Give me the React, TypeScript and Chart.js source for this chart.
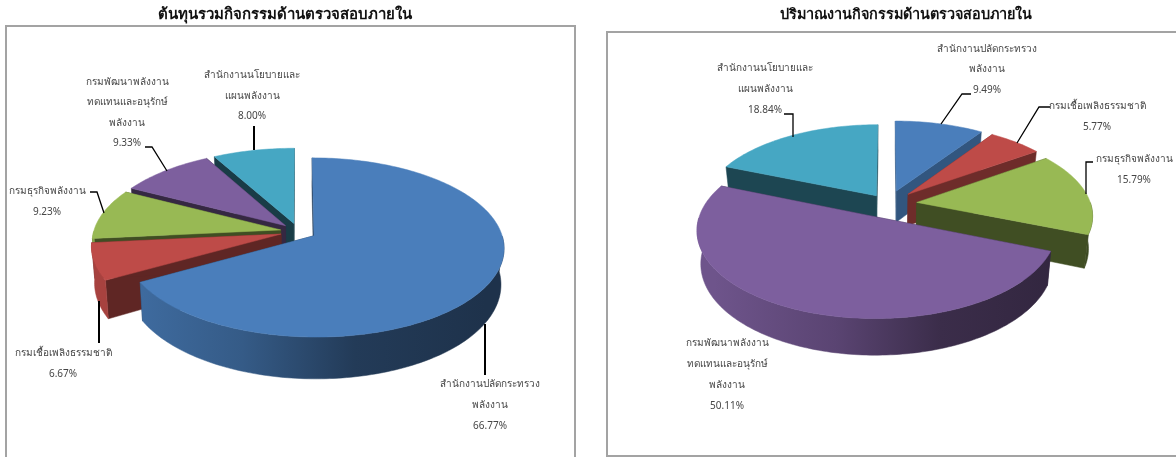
import React, { useEffect, useRef } from "react";
import { Chart, registerables } from "chart.js";

Chart.register(...registerables);

const FONT = '"Noto Sans", "DejaVu Sans", sans-serif';

// ---- data ----
const costTitle = "ต้นทุนรวมกิจกรรมด้านตรวจสอบภายใน";
const workTitle = "ปริมาณงานกิจกรรมด้านตรวจสอบภายใน";
const categories = [
  "สำนักงานปลัดกระทรวงพลังงาน",
  "กรมเชื้อเพลิงธรรมชาติ",
  "กรมธุรกิจพลังงาน",
  "กรมพัฒนาพลังงานทดแทนและอนุรักษ์พลังงาน",
  "สำนักงานนโยบายและแผนพลังงาน",
];
const costValues = [66.77, 6.67, 9.23, 9.33, 8.0];
const workValues = [9.49, 5.77, 15.79, 50.11, 18.84];
const categoryLines = [
  ["สำนักงานปลัดกระทรวง", "พลังงาน"],
  ["กรมเชื้อเพลิงธรรมชาติ"],
  ["กรมธุรกิจพลังงาน"],
  ["กรมพัฒนาพลังงาน", "ทดแทนและอนุรักษ์", "พลังงาน"],
  ["สำนักงานนโยบายและ", "แผนพลังงาน"],
];

// ---- styles ----
const topColors = ["#4a7ebb", "#be4b48", "#98b954", "#7d5f9e", "#46a7c3"];

function shade(hex: string, f: number) {
  const n = parseInt(hex.slice(1), 16);
  const c = [(n >> 16) & 255, (n >> 8) & 255, n & 255].map((v) => Math.round(v * f));
  return `rgb(${c[0]},${c[1]},${c[2]})`;
}

const pie3d = {
  id: "pie3d",
  beforeDatasetDraw(chart: any, args: any, o: any) {
    const ctx = chart.ctx as CanvasRenderingContext2D;
    const arcs = chart.getDatasetMeta(args.index).data as any[];
    const cx = o.center[0] - o.originX;
    const cy = o.center[1];
    const order = arcs
      .map((el, i) => ({ el, i, mid: (el.startAngle + el.endAngle) / 2 }))
      .sort((a, b) => Math.sin(a.mid) - Math.sin(b.mid));

    for (const { el, i, mid } of order) {
      const R = el.outerRadius;
      const off = (el.options.offset || 0) / R;
      const u0 = Math.cos(mid) * off;
      const v0 = Math.sin(mid) * off;
      const color = el.options.backgroundColor;
      // the exploded disc seen in perspective
      const proj = (u: number, v: number) => {
        const w = 1 - o.persp * v;
        return [(R * u) / w, (R * o.squash * v) / w];
      };
      const top = (u: number, v: number) => {
        const [x, y] = proj(u, v);
        return [cx + x, cy + y];
      };
      const bot = (u: number, v: number) => {
        const [x, y] = proj(u, v);
        return [cx + x * o.baseScale, cy + y * o.baseScale + o.depth + o.depthSlope * v];
      };
      const topPt = (a: number) => top(u0 + Math.cos(a), v0 + Math.sin(a));
      const botPt = (a: number) => bot(u0 + Math.cos(a), v0 + Math.sin(a));
      const apexTop = top(u0, v0);
      const apexBot = bot(u0, v0);
      const n = Math.max(4, Math.ceil((el.endAngle - el.startAngle) / 0.02));
      const angles: number[] = [];
      for (let k = 0; k <= n; k++) angles.push(el.startAngle + ((el.endAngle - el.startAngle) * k) / n);

      const poly = (pts: number[][], fill: any) => {
        ctx.beginPath();
        pts.forEach((p, k) => (k ? ctx.lineTo(p[0], p[1]) : ctx.moveTo(p[0], p[1])));
        ctx.closePath();
        ctx.fillStyle = fill;
        ctx.fill();
        ctx.strokeStyle = fill;
        ctx.lineWidth = 0.5;
        ctx.stroke();
      };

      const faceFill = shade(color, o.faceShade[i]);
      poly([apexTop, topPt(el.startAngle), botPt(el.startAngle), apexBot], faceFill);
      poly([apexTop, topPt(el.endAngle), botPt(el.endAngle), apexBot], faceFill);

      const g = ctx.createLinearGradient(cx - R, 0, cx + R, 0);
      g.addColorStop(0, shade(color, 0.88));
      g.addColorStop(0.35, shade(color, 0.72));
      g.addColorStop(0.65, shade(color, 0.47));
      g.addColorStop(1, shade(color, 0.4));
      const front = angles.filter((a) => Math.sin(a) >= 0);
      if (front.length > 1) poly([...front.map(topPt), ...front.slice().reverse().map(botPt)], g);

      poly([apexTop, ...angles.map(topPt)], color);
    }

    // data labels and leader lines
    ctx.save();
    ctx.translate(-o.originX, 0);
    ctx.strokeStyle = "#000";
    ctx.lineJoin = "miter";
    for (const lab of o.labels) {
      if (lab.leader) {
        ctx.beginPath();
        ctx.lineWidth = lab.leader.length === 2 ? 2 : 1.3;
        lab.leader.forEach((p: number[], k: number) => (k ? ctx.lineTo(p[0], p[1]) : ctx.moveTo(p[0], p[1])));
        ctx.stroke();
      }
    }
    ctx.fillStyle = "#454545";
    ctx.font = `10px ${FONT}`;
    ctx.textAlign = "center";
    ctx.textBaseline = "middle";
    const values = chart.data.datasets[args.index].data as number[];
    for (const lab of o.labels) {
      const lines = [...categoryLines[lab.index], values[lab.index].toFixed(2) + "%"];
      lines.forEach((t: string, k: number) => ctx.fillText(t, lab.x, lab.y + k * lab.gap));
    }
    ctx.restore();
    return false;
  },
};

const costLabels = [
  { index: 0, x: 490, y: 384, gap: 21, leader: [[485, 324], [485, 375]] },
  { index: 1, x: 63, y: 353, gap: 21, leader: [[99, 301], [99, 343]] },
  { index: 2, x: 47, y: 191, gap: 21, leader: [[90, 192], [97, 192], [104, 213]] },
  { index: 3, x: 127, y: 82, gap: 20.4, leader: [[145, 147], [152, 147], [167, 171]] },
  { index: 4, x: 252, y: 75, gap: 20.8, leader: [[254, 126], [254, 150]] },
];
const workLabels = [
  { index: 0, x: 987, y: 49, gap: 20.6, leader: [[971, 94], [962, 94], [941, 124]] },
  { index: 1, x: 1097, y: 106, gap: 21, leader: [[1050, 107], [1039, 107], [1017, 143]] },
  { index: 2, x: 1134, y: 159, gap: 21, leader: [[1093, 162], [1086, 162], [1086, 194]] },
  { index: 3, x: 727, y: 343, gap: 21, leader: null },
  { index: 4, x: 765, y: 68, gap: 21, leader: [[784, 114], [793, 114], [793, 137]] },
];

function makeChart(canvas: HTMLCanvasElement, title: string, titleSize: number, values: number[], radius: number, offset: number[], pie: any) {
  return new Chart(canvas, {
    type: "pie",
    data: {
      labels: categories,
      datasets: [{ data: values, backgroundColor: topColors, offset, borderWidth: 0 }],
    },
    plugins: [pie3d],
    options: {
      animation: false,
      responsive: false,
      radius,
      plugins: {
        legend: { display: false },
        tooltip: { enabled: false },
        title: {
          display: true,
          text: title,
          color: "#111",
          font: { family: FONT, size: titleSize, weight: "bold" },
          padding: { top: 6, bottom: 0 },
        },
        pie3d: pie,
      },
    } as any,
  } as any);
}

function Pane({ style, width, build }: any) {
  const ref = useRef<HTMLCanvasElement>(null);
  useEffect(() => {
    const c = build(ref.current);
    return () => c.destroy();
  }, []);
  return <canvas ref={ref} width={width} height={457} style={{ position: "absolute", top: 0, ...style }} />;
}

const frame = (left: number, top: number, width: number, height: number): React.CSSProperties => ({
  position: "absolute",
  left,
  top,
  width,
  height,
  border: "2px solid #a3a3a3",
  boxSizing: "border-box",
});

export default function App() {
  return (
    <div style={{ position: "fixed", inset: 0, overflow: "hidden", background: "#fff" }}>
      <div style={frame(5, 25, 571, 460)} />
      <div style={frame(606, 31, 600, 426)} />
      <Pane
        style={{ left: 0 }}
        width={570}
        build={(c: HTMLCanvasElement) =>
          makeChart(c, costTitle, 15, costValues, 187, [18, 18, 18, 18, 18], {
            center: [298.3, 231.5],
            originX: 0,
            persp: 0.13,
            squash: 0.465,
            depth: 35,
            depthSlope: 8,
            baseScale: 0.985,
            faceShade: [0.45, 0.5, 0.42, 0.42, 0.36],
            labels: costLabels,
          })
        }
      />
      <Pane
        style={{ left: 636 }}
        width={540}
        build={(c: HTMLCanvasElement) =>
          makeChart(c, workTitle, 14.4, workValues, 174, [29, 29, 29, 29, 21], {
            center: [888, 204],
            originX: 636,
            persp: 0.14,
            squash: 0.478,
            depth: 32,
            depthSlope: 6,
            baseScale: 0.98,
            faceShade: [0.68, 0.58, 0.42, 0.45, 0.42],
            labels: workLabels,
          })
        }
      />
    </div>
  );
}
